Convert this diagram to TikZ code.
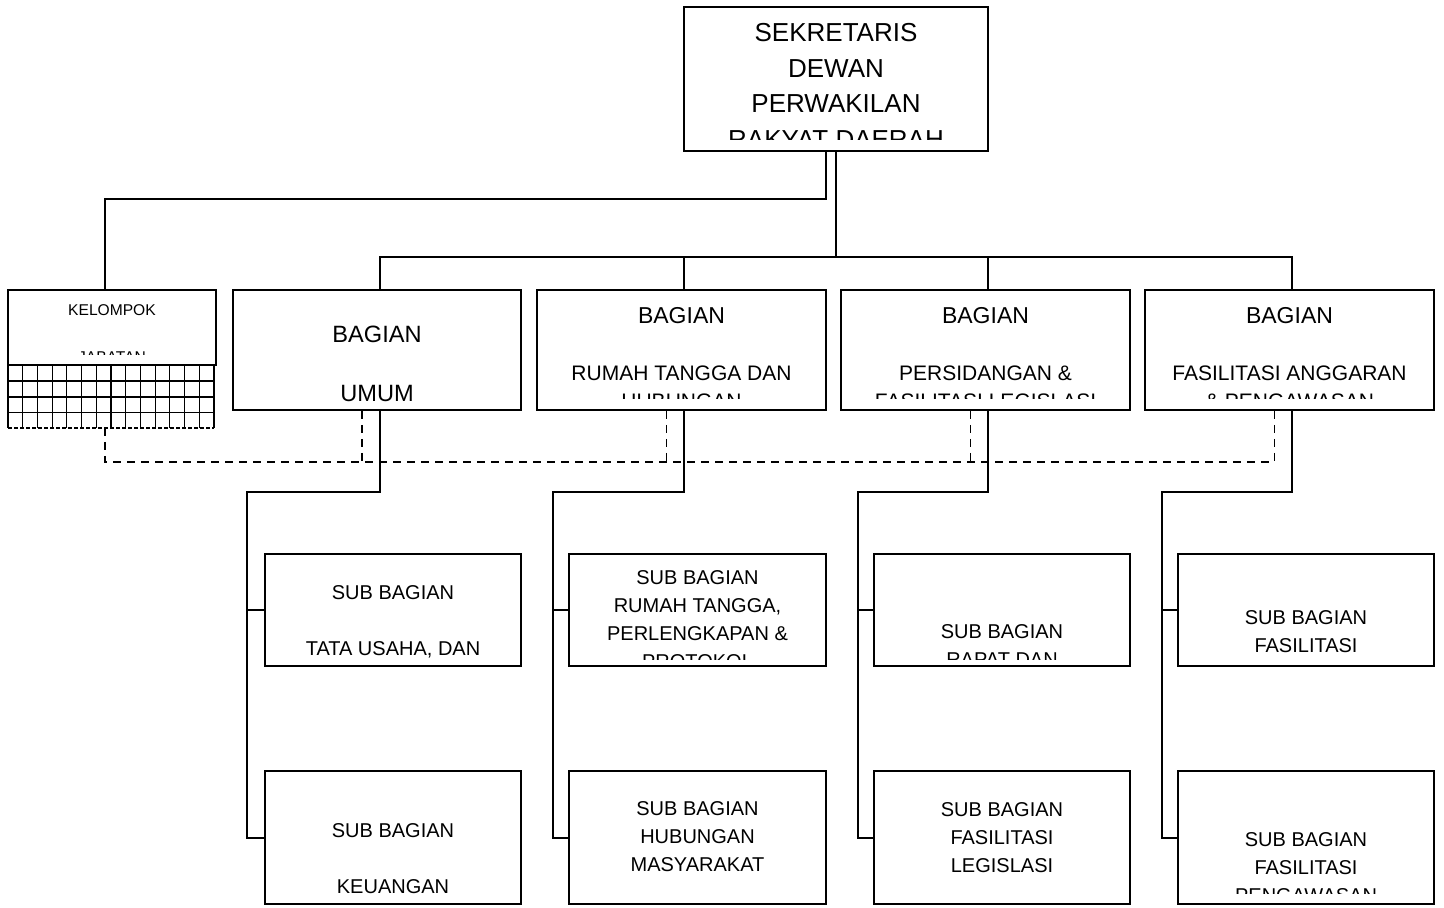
\documentclass[tikz,border=0pt]{standalone}
\usepackage{fontspec}
\setmainfont{Liberation Sans}
\begin{document}
\begin{tikzpicture}[x=0.5pt,y=-0.5pt,
  box/.style={draw, line width=1pt, inner sep=0pt},
  txt/.style={anchor=north, align=center, inner sep=0pt},
  conn/.style={line width=1pt},
  dashline/.style={line width=0.9pt, dash pattern=on 4pt off 3pt},
  gridline/.style={line width=0.55pt},
  subfont/.style={font=\fontsize{10}{14}\selectfont},
  bagfont/.style={font=\fontsize{10.5}{14.25}\selectfont}
]
\useasboundingbox (0,0) rectangle (1444,908);

% boxes
\node[box, minimum width=152pt, minimum height=72pt] (top) at (836,79) {};
\node[box, minimum width=104pt, minimum height=37.5pt] (kel) at (112,327.5) {};
\node[box, minimum width=144pt, minimum height=60pt] (b1) at (377,350) {};
\node[box, minimum width=144.5pt, minimum height=60pt] (b2) at (681.5,350) {};
\node[box, minimum width=144.5pt, minimum height=60pt] (b3) at (985.5,350) {};
\node[box, minimum width=144.5pt, minimum height=60pt] (b4) at (1289.5,350) {};
\node[box, minimum width=128pt, minimum height=56pt] (s11) at (393,610) {};
\node[box, minimum width=128pt, minimum height=66.5pt] (s12) at (393,837.5) {};
\node[box, minimum width=128.5pt, minimum height=56pt] (s21) at (697.5,610) {};
\node[box, minimum width=128.5pt, minimum height=66.5pt] (s22) at (697.5,837.5) {};
\node[box, minimum width=128pt, minimum height=56pt] (s31) at (1002,610) {};
\node[box, minimum width=128pt, minimum height=66.5pt] (s32) at (1002,837.5) {};
\node[box, minimum width=128pt, minimum height=56pt] (s41) at (1306,610) {};
\node[box, minimum width=128pt, minimum height=66.5pt] (s42) at (1306,837.5) {};

% grid below kelompok
\foreach \i in {0,...,14} \draw[gridline] ({8+\i*14.714},365) -- ({8+\i*14.714},428);
\foreach \j in {381,397,412.5} \draw[gridline] (8,\j) -- (214,\j);
\draw[gridline, dash pattern=on 2pt off 1pt] (8,428) -- (214,428);
\coordinate (gb) at (105,428);

% texts (clipped)
\begin{scope}\clip (684,7) rectangle (988,140);
\node[txt, font=\fontsize{13}{17.75}\selectfont] (toptx) at (836,23) {SEKRETARIS\\DEWAN\\PERWAKILAN\\RAKYAT DAERAH};
\end{scope}
\begin{scope}\clip (8,290) rectangle (216,355);
\node[txt, font=\fontsize{7.8}{11.75}\selectfont] (keltx) at (112,304.6) {KELOMPOK\\~\\JABATAN};
\end{scope}
\begin{scope}\clip (233,290) rectangle (521,404);
\node[txt, font=\fontsize{11.8}{14.75}\selectfont] (b1tx) at (377,325.8) {BAGIAN\\~\\UMUM};
\end{scope}
\begin{scope}\clip (537,290) rectangle (826,399);
\node[txt, bagfont] (b2tx) at (681.5,307) {{\fontsize{11.5}{14.25}\selectfont BAGIAN}\\~\\RUMAH TANGGA DAN\\HUBUNGAN};
\end{scope}
\begin{scope}\clip (841,290) rectangle (1130,399);
\node[txt, bagfont] (b3tx) at (985.5,307) {{\fontsize{11.5}{14.25}\selectfont BAGIAN}\\~\\PERSIDANGAN \&\\FASILITASI LEGISLASI};
\end{scope}
\begin{scope}\clip (1145,290) rectangle (1434,399);
\node[txt, bagfont] (b4tx) at (1289.5,307) {{\fontsize{11.5}{14.25}\selectfont BAGIAN}\\~\\FASILITASI ANGGARAN\\\& PENGAWASAN};
\end{scope}
\begin{scope}\clip (265,554) rectangle (521,659);
\node[txt, subfont] (s11tx) at (393,585.4) {SUB BAGIAN\\~\\TATA USAHA, DAN};
\end{scope}
\begin{scope}\clip (265,771) rectangle (521,893);
\node[txt, subfont] (s12tx) at (393,823.4) {SUB BAGIAN\\~\\KEUANGAN};
\end{scope}
\begin{scope}\clip (569,554) rectangle (826,659);
\node[txt, subfont] (s21tx) at (697.5,570.4) {SUB BAGIAN\\RUMAH TANGGA,\\PERLENGKAPAN \&\\PROTOKOL};
\end{scope}
\begin{scope}\clip (569,771) rectangle (826,893);
\node[txt, subfont] (s22tx) at (697.5,801.4) {SUB BAGIAN\\HUBUNGAN\\MASYARAKAT};
\end{scope}
\begin{scope}\clip (874,554) rectangle (1130,659);
\node[txt, subfont] (s31tx) at (1002,624.4) {SUB BAGIAN\\RAPAT DAN};
\end{scope}
\begin{scope}\clip (874,771) rectangle (1130,893);
\node[txt, subfont] (s32tx) at (1002,802.4) {SUB BAGIAN\\FASILITASI\\LEGISLASI};
\end{scope}
\begin{scope}\clip (1178,554) rectangle (1434,659);
\node[txt, subfont] (s41tx) at (1306,610.4) {SUB BAGIAN\\FASILITASI};
\end{scope}
\begin{scope}\clip (1178,771) rectangle (1434,893);
\node[txt, subfont] (s42tx) at (1306,832.4) {SUB BAGIAN\\FASILITASI\\PENGAWASAN};
\end{scope}

% connectors from top
\coordinate (jk) at (105,199);
\draw[conn] ([xshift=-5pt]top.south) |- (jk) -- (jk |- kel.north);
\coordinate (bus) at (836,257);
\draw[conn] (top.south) -- (bus);
\foreach \b in {b1,b2,b3,b4} \draw[conn] ([xshift=1.25pt]\b.north) |- (bus);

% sub buses
\coordinate (c1) at (247,492);
\coordinate (c2) at (553,492);
\coordinate (c3) at (858,492);
\coordinate (c4) at (1162,492);
\draw[conn] ([xshift=1.25pt]b1.south) |- (c1) |- (s11.west);
\draw[conn] (c1) |- (s12.west);
\draw[conn] ([xshift=1.25pt]b2.south) |- (c2) |- (s21.west);
\draw[conn] (c2) |- (s22.west);
\draw[conn] ([xshift=1.25pt]b3.south) |- (c3) |- (s31.west);
\draw[conn] (c3) |- (s32.west);
\draw[conn] ([xshift=1.25pt]b4.south) |- (c4) |- (s41.west);
\draw[conn] (c4) |- (s42.west);

% dashed coordination lines
\coordinate (dk) at (105,462);
\coordinate (d1) at ([xshift=-7.5pt]b1.south);
\coordinate (d2) at ([xshift=-7.5pt]b2.south);
\coordinate (d3) at ([xshift=-7.5pt]b3.south);
\coordinate (d4) at ([xshift=-7.5pt]b4.south);
\draw[dashline] (gb) -- (dk) -- (d4 |- dk);
\foreach \d in {d1,d2,d3,d4} \draw[dashline] (\d) -- (\d |- dk);
\end{tikzpicture}
\end{document}
